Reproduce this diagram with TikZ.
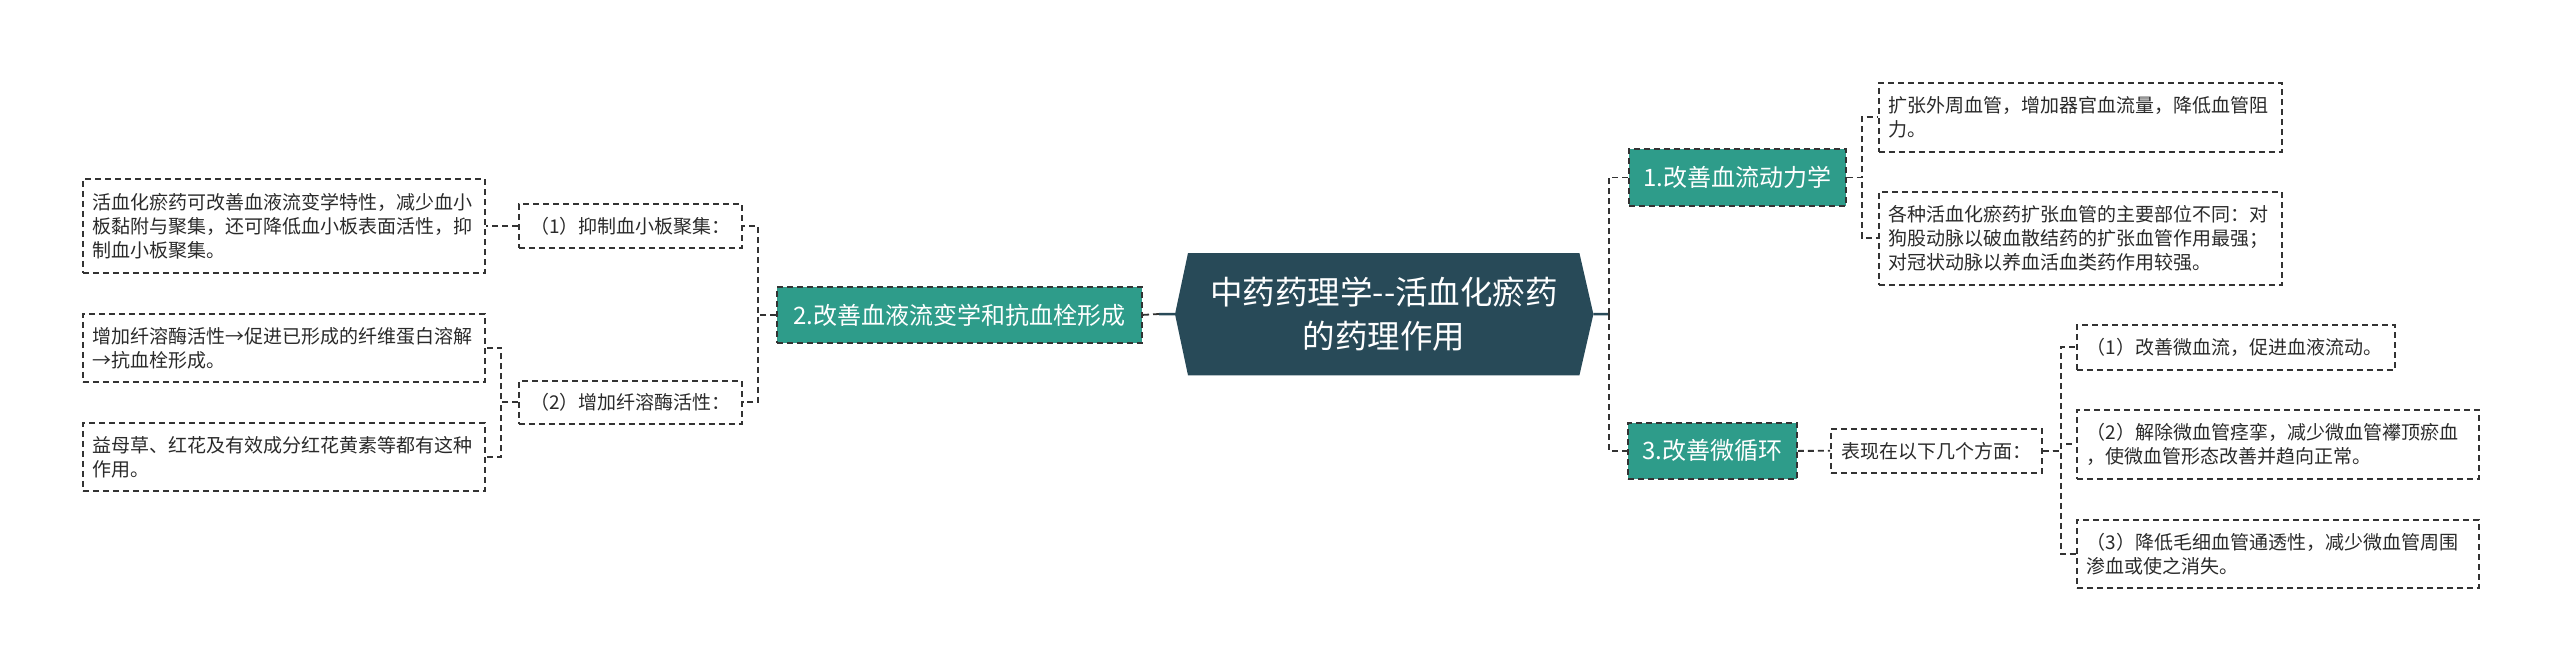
\documentclass[tikz,border=0pt]{standalone}
\usepackage{fontspec}
\setmainfont{Noto Sans CJK SC}
\usetikzlibrary{backgrounds}
\definecolor{rootblue}{HTML}{284A58}
\definecolor{branchteal}{HTML}{2E9C8A}
\definecolor{linegray}{HTML}{333333}
\definecolor{textgray}{HTML}{2A2A2A}

\begin{document}
\begin{tikzpicture}
  [x = 1pt, y = -1pt,
   link/.style = {draw = linegray, line width = 1.8pt, dash pattern = on 6pt off 4pt},
   rootlink/.style = {draw = rootblue, line width = 2.5pt},
   branch/.style = {anchor = north west, fill = branchteal, draw = linegray, line width = 1.8pt,
     dash pattern = on 6pt off 4pt, text = white, inner sep = 0pt, font = \fontsize{24}{28}\selectfont},
   sub/.style = {anchor = north west, draw = linegray, line width = 1.6pt, dash pattern = on 6pt off 4pt,
     text = textgray, inner sep = 0pt, font = \fontsize{19}{24}\selectfont},
   leaf/.style = {anchor = north west, draw = linegray, line width = 1.6pt, dash pattern = on 6pt off 4pt,
     text = textgray, align = left, inner xsep = 10pt, inner ysep = 0pt, font = \fontsize{19}{24}\selectfont}]
  \useasboundingbox (0,0) rectangle (2560,669);

  \node (root) at (1175,253) [anchor = north west, minimum width = 418pt, minimum height = 122pt,
    inner sep = 0pt, align = center, text = white, font = \fontsize{32.5}{44}\selectfont]
    {中药药理学-\kern0pt-活血化瘀药\\的药理作用};
  \begin{scope}[on background layer]
    \fill[rootblue] (root.west) -- ([xshift = 13pt]root.north west) -- ([xshift = -14pt]root.north east)
      -- (root.east) -- ([xshift = -14pt]root.south east) -- ([xshift = 13pt]root.south west) -- cycle;
  \end{scope}

  \node (br1) at (1628,148) [branch, minimum width = 217pt, minimum height = 57pt] {1.改善血流动力学};
  \node (br2) at (776,286) [branch, minimum width = 365pt, minimum height = 56pt] {2.改善血液流变学和抗血栓形成};
  \node (br3) at (1627,422) [branch, minimum width = 169pt, minimum height = 56pt] {3.改善微循环};

  \node (leaf1a) at (1878,82) [leaf, text width = 383pt, minimum height = 69pt]
    {扩张外周血管，增加器官血流量，降低血管阻\\力。};
  \node (leaf1b) at (1878,191) [leaf, text width = 383pt, minimum height = 93pt]
    {各种活血化瘀药扩张血管的主要部位不同：对\\狗股动脉以破血散结药的扩张血管作用最强；\\对冠状动脉以养血活血类药作用较强。};

  \node (b2a) at (518,203) [sub, minimum width = 223pt, minimum height = 44pt] {（1）抑制血小板聚集：};
  \node (b2b) at (518,380) [sub, minimum width = 223pt, minimum height = 43pt] {（2）增加纤溶酶活性：};
  \node (leaf2a) at (82,178) [leaf, text width = 382pt, minimum height = 94pt]
    {活血化瘀药可改善血液流变学特性，减少血小\\板黏附与聚集，还可降低血小板表面活性，抑\\制血小板聚集。};
  \node (leaf2b) at (82,313) [leaf, text width = 382pt, minimum height = 68pt]
    {增加纤溶酶活性→促进已形成的纤维蛋白溶解\\→抗血栓形成。};
  \node (leaf2c) at (82,422) [leaf, text width = 382pt, minimum height = 68pt]
    {益母草、红花及有效成分红花黄素等都有这种\\作用。};

  \node (b3) at (1830,428) [sub, minimum width = 211pt, minimum height = 44pt] {表现在以下几个方面：};
  \node (leaf3a) at (2076,324) [leaf, text width = 298pt, minimum height = 45pt]
    {（1）改善微血流，促进血液流动。};
  \node (leaf3b) at (2076,409) [leaf, text width = 382pt, minimum height = 69pt]
    {（2）解除微血管痉挛，减少微血管襻顶瘀血\\，使微血管形态改善并趋向正常。};
  \node (leaf3c) at (2076,519) [leaf, text width = 382pt, minimum height = 68pt]
    {（3）降低毛细血管通透性，减少微血管周围\\渗血或使之消失。};

  \coordinate (lj) at (1159,314);
  \coordinate (rj) at (1609,314);
  \draw[rootlink] (root.west) -- (lj);
  \draw[link] (lj) -- (br2.east);
  \draw[rootlink] (root.east) -- (rj);
  \foreach \b in {br1,br3}{
    \draw[link] (rj) |- (\b.west);
  }
  \foreach \n in {leaf1a,leaf1b}{
    \draw[link] (br1.east) -- ++(15,0) |- (\n.west);
  }
  \foreach \n in {b2a,b2b}{
    \draw[link] (br2.west) -- ++(-18,0) |- (\n.east);
  }
  \draw[link] (b2a.west) -- (leaf2a.east);
  \foreach \n in {leaf2b,leaf2c}{
    \draw[link] (b2b.west) -- ++(-17,0) |- (\n.east);
  }
  \draw[link] (br3.east) -- (b3.west);
  \foreach \n in {leaf3a,leaf3b,leaf3c}{
    \draw[link] (b3.east) -- ++(18,0) |- (\n.west);
  }
\end{tikzpicture}
\end{document}
